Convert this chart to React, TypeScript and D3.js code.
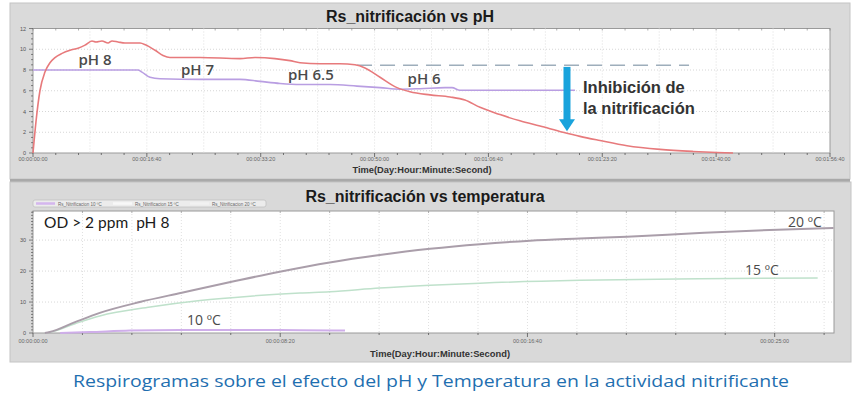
import React from "react";
import * as d3 from "d3";

// ---------- DATA ----------
// Top chart: time (s) vs Rs_nitrificación
const phTimes = [0, 26, 61, 105, 149, 193, 255, 325, 395, 457, 518, 553, 606, 659, 694, 747, 808, 940, 992, 1072, 1142, 1203, 1467, 1818, 1950, 2125, 2257, 2345, 2521, 2696, 2828, 2916, 3048, 3197, 3311, 3487, 3663, 3794, 3926, 4102, 4277, 4453, 4655, 4804, 4980, 5217, 5507, 5797, 6008, 6148];
const rsValues = [0, 3, 6, 7.8, 8.7, 9.2, 9.6, 9.9, 10.1, 10.4, 10.8, 10.7, 10.8, 10.6, 10.8, 10.7, 10.6, 10.6, 10.4, 9.9, 9.4, 9.2, 9.2, 9.1, 9.2, 9.1, 8.9, 8.7, 8.6, 8.6, 8.5, 8.2, 7.3, 6.3, 5.9, 5.6, 5.4, 5.1, 4.4, 3.7, 3.1, 2.6, 2.0, 1.6, 1.2, 0.7, 0.35, 0.15, 0.05, 0];
const pHTimes = [0, 922, 957, 1028, 1115, 1467, 1818, 1994, 2169, 2345, 2609, 2846, 3048, 3223, 3399, 3619, 3680, 3750, 4102, 4760];
const pHValues = [8, 8, 7.8, 7.3, 7.15, 7.1, 7.1, 6.9, 6.7, 6.6, 6.6, 6.45, 6.3, 6.15, 6.2, 6.3, 6.3, 6.05, 6.05, 6.05];
const refLineTimes = [2846, 5762];
const refLineValue = 8.45;
const arrowTime = 4690;
const arrowFrom = 8.3;
const arrowTo = 2.1;
const phLabels = ["pH 8", "pH 7", "pH 6.5", "pH 6"];
const phLabelT = [400, 1300, 2240, 3290];
const phLabelV = [8.5, 7.5, 7.04, 6.65];
const topXTicks = ["00:00:00:00", "00:00:16:40", "00:00:33:20", "00:00:50:00", "00:01:06:40", "00:01:23:20", "00:01:40:00", "00:01:56:40"];
const topYTicks = [0, 2, 4, 6, 8, 10, 12];

// Bottom chart: time (s) vs Rs_nitrificación at 3 temperatures
const t20Times = [24, 34, 85, 135, 216, 301, 404, 499, 600, 701, 803, 904, 1005, 1106, 1201, 1348, 1490, 1619];
const t20Values = [0, 0.3, 3.5, 6.5, 10, 13, 16.6, 19.8, 22.8, 25.2, 27.2, 28.7, 29.8, 30.5, 31.1, 32.3, 33.3, 33.9];
const t15Times = [24, 34, 85, 135, 237, 338, 439, 540, 600, 701, 803, 904, 1106, 1348, 1587];
const t15Values = [0, 0.2, 3, 5.5, 8.4, 10.5, 11.9, 12.9, 13.3, 14.5, 15.4, 16.1, 17.0, 17.5, 17.8];
const t10Times = [55, 115, 196, 297, 439, 540, 631];
const t10Values = [0, 0.3, 0.8, 1.0, 1.0, 0.9, 0.8];
const tempLabels = ["10 ºC", "15 ºC", "20 ºC"];
const bottomXTicks = ["00:00:00:00", "00:00:08:20", "00:00:16:40", "00:00:25:00"];
const bottomYTicks = [0, 10, 20, 30];
const legendNames = ["Rs_Nitrificacion 10 ºC", "Rs_Nitrificacion 15 ºC", "Rs_Nitrificacion 20 ºC"];

// ---------- COMPONENT ----------
const W = 861;
const H = 399;

function zip(ts: number[], vs: number[]): [number, number][] {
  return ts.map((t, i) => [t, vs[i]]);
}

export default function App() {
  // top scales
  const tx = d3.scaleLinear().domain([0, 7000]).range([33, 830]);
  const ty = d3.scaleLinear().domain([0, 12]).range([153, 28.5]);
  // bottom scales
  const bx = d3.scaleLinear().domain([0, 1620]).range([33, 834]);
  const by = d3.scaleLinear().domain([0, 39.4]).range([333, 211]);

  const topLine = d3.line<[number, number]>().x((d) => tx(d[0])).y((d) => ty(d[1])).curve(d3.curveMonotoneX);
  const botLine = d3.line<[number, number]>().x((d) => bx(d[0])).y((d) => by(d[1])).curve(d3.curveMonotoneX);

  const tickFont = "'Liberation Sans', Arial, sans-serif";

  // minor ticks
  const topXMinor = d3.range(0, 7001, 200);
  const topYMinor = d3.range(0, 12.01, 0.5);
  const topGridX = d3.range(500, 7000, 500);
  const botXMinor = d3.range(0, 1620, 100);
  const botYMinor = d3.range(0, 39.4, 1);

  const ax = tx(arrowTime);

  return (
    <svg width={W} height={H} style={{ position: "absolute", left: 0, top: 0, background: "#fff" }}>
      {/* ---------- TOP PANEL ---------- */}
      <rect x={10} y={3} width={840} height={176} fill="#dadada" stroke="#c4c4c4" />
      <text x={410} y={21.5} textAnchor="middle" fontFamily={tickFont} fontWeight="bold" fontSize={16} fill="#1a1a1a">
        Rs_nitrificación vs pH
      </text>
      <rect x={33} y={28.5} width={797} height={124.5} fill="#ffffff" stroke="#9a9a9a" />
      {/* grid */}
      {topYTicks.slice(1, -1).map((v) => (
        <line key={"tgy" + v} x1={33} x2={830} y1={ty(v)} y2={ty(v)} stroke="#d6d6d6" strokeDasharray="1,2" />
      ))}
      {topGridX.map((t) => (
        <line key={"tgx" + t} x1={tx(t)} x2={tx(t)} y1={28.5} y2={153} stroke="#dedede" strokeDasharray="1,2" />
      ))}
      {/* minor ticks */}
      {topXMinor.map((t) => (
        <g key={"txm" + t}>
          <line x1={tx(t)} x2={tx(t)} y1={153} y2={t % 1000 === 0 ? 157 : 155} stroke="#555" strokeWidth={0.8} />
          <line x1={tx(t)} x2={tx(t)} y1={28.5} y2={30.5} stroke="#777" strokeWidth={0.6} />
        </g>
      ))}
      {topYMinor.map((v) => (
        <line key={"tym" + v} x1={v % 2 === 0 ? 29 : 31} x2={33} y1={ty(v)} y2={ty(v)} stroke="#555" strokeWidth={0.7} />
      ))}
      {topYTicks.map((v) => (
        <text key={"tyl" + v} x={26} y={ty(v) + 2} textAnchor="end" fontFamily={tickFont} fontSize={5.5} fill="#555">
          {v}
        </text>
      ))}
      {topXTicks.map((s, i) => (
        <text key={"txl" + i} x={tx(i * 1000)} y={161} textAnchor="middle" fontFamily={tickFont} fontSize={5.5} fill="#666">
          {s}
        </text>
      ))}
      <text x={422} y={173} textAnchor="middle" fontFamily={tickFont} fontWeight="bold" fontSize={9} fill="#333" textLength={139} lengthAdjust="spacingAndGlyphs">
        Time(Day:Hour:Minute:Second)
      </text>
      {/* series */}
      <line x1={tx(refLineTimes[0])} x2={tx(refLineTimes[1])} y1={ty(refLineValue)} y2={ty(refLineValue)} stroke="#9eaebb" strokeWidth={1.5} strokeDasharray="15,8" />
      <path d={topLine(zip(pHTimes, pHValues)) || ""} fill="none" stroke="#b99ee2" strokeWidth={1.6} />
      <path d={topLine(zip(phTimes, rsValues)) || ""} fill="none" stroke="#e77a7c" strokeWidth={1.6} />
      {/* arrow */}
      <line x1={ax} x2={ax} y1={ty(arrowFrom)} y2={ty(arrowTo) - 11} stroke="#19a3dc" strokeWidth={7} />
      <path d={`M${ax - 8},${ty(arrowTo) - 12} L${ax + 8},${ty(arrowTo) - 12} L${ax},${ty(arrowTo)} Z`} fill="#19a3dc" />
      {/* labels */}
      {phLabels.map((s, i) => (
        <text key={s} x={tx(phLabelT[i])} y={ty(phLabelV[i])} fontFamily="'Open Sans', 'DejaVu Sans', sans-serif" fontWeight={600} fontSize={15} fill="#4a4a4a">
          {s}
        </text>
      ))}
      <text fontFamily={tickFont} fontWeight="bold" fontSize={16.5} fill="#333">
        <tspan x={583} y={93}>Inhibición de</tspan>
        <tspan x={583} y={114}>la nitrificación</tspan>
      </text>

      {/* ---------- BOTTOM PANEL ---------- */}
      <rect x={10} y={179} width={840} height={3} fill="#a9a9a9" />
      <rect x={10} y={182} width={841} height={180} fill="#d9d9d9" stroke="#c4c4c4" />
      <text x={425} y={202} textAnchor="middle" fontFamily={tickFont} fontWeight="bold" fontSize={16} fill="#1a1a1a">
        Rs_nitrificación vs temperatura
      </text>
      {/* legend */}
      <rect x={33} y={200} width={233} height={7} rx={2} fill="#ececec" stroke="#bdbdbd" strokeWidth={0.7} />
      {legendNames.map((n, i) => (
        <g key={n}>
          <line x1={36 + i * 77} x2={55 + i * 77} y1={203.5} y2={203.5} stroke={["#d4b6ee", "#f8f8f8", "#f2f2f2"][i]} strokeWidth={2.5} />
          <text x={58 + i * 77} y={205.5} fontFamily={tickFont} fontSize={4.5} fill="#666">
            {n}
          </text>
        </g>
      ))}
      <rect x={33} y={211} width={801} height={122} fill="#ffffff" stroke="#9a9a9a" />
      {bottomYTicks.slice(1).map((v) => (
        <line key={"bgy" + v} x1={33} x2={834} y1={by(v)} y2={by(v)} stroke="#d8d8d8" strokeDasharray="1,2" />
      ))}
      {botXMinor.slice(1).map((t) => (
        <line key={"bgx" + t} x1={bx(t)} x2={bx(t)} y1={211} y2={333} stroke="#e0e0e0" strokeDasharray="1,2" />
      ))}
      {botXMinor.map((t) => (
        <g key={"bxm" + t}>
          <line x1={bx(t)} x2={bx(t)} y1={333} y2={t % 500 === 0 ? 337 : 335} stroke="#555" strokeWidth={0.8} />
          <line x1={bx(t)} x2={bx(t)} y1={211} y2={213} stroke="#777" strokeWidth={0.6} />
        </g>
      ))}
      {botYMinor.map((v) => (
        <line key={"bym" + v} x1={v % 10 === 0 ? 29 : 31} x2={33} y1={by(v)} y2={by(v)} stroke="#555" strokeWidth={0.7} />
      ))}
      {bottomYTicks.map((v) => (
        <text key={"byl" + v} x={26} y={by(v) + 2} textAnchor="end" fontFamily={tickFont} fontSize={5.5} fill="#555">
          {v}
        </text>
      ))}
      {bottomXTicks.map((s, i) => (
        <text key={"bxl" + i} x={bx(i * 500)} y={343} textAnchor="middle" fontFamily={tickFont} fontSize={5.5} fill="#666">
          {s}
        </text>
      ))}
      <text x={440} y={357} textAnchor="middle" fontFamily={tickFont} fontWeight="bold" fontSize={9} fill="#333" textLength={140} lengthAdjust="spacingAndGlyphs">
        Time(Day:Hour:Minute:Second)
      </text>
      <path d={botLine(zip(t10Times, t10Values)) || ""} fill="none" stroke="#cfaeea" strokeWidth={2} />
      <path d={botLine(zip(t15Times, t15Values)) || ""} fill="none" stroke="#bfe1cb" strokeWidth={1.5} />
      <path d={botLine(zip(t20Times, t20Values)) || ""} fill="none" stroke="#aa9eaa" strokeWidth={2} />
      <text x={44} y={228} fontFamily="Lato, 'Open Sans', sans-serif" fontSize={15.5} fill="#1a1a1a" style={{ whiteSpace: "pre" }}>
        {"OD > 2 ppm  pH 8"}
      </text>
      <text x={187} y={325} fontFamily="'Open Sans', sans-serif" fontSize={14} fill="#4a4a4a">
        {tempLabels[0]}
      </text>
      <text x={745} y={275} fontFamily="'Open Sans', sans-serif" fontSize={14} fill="#4a4a4a">
        {tempLabels[1]}
      </text>
      <text x={788} y={227} fontFamily="'Open Sans', sans-serif" fontSize={14} fill="#4a4a4a">
        {tempLabels[2]}
      </text>

      {/* ---------- CAPTION ---------- */}
      <text x={431} y={387} textAnchor="middle" fontFamily="'Open Sans', 'Noto Sans', sans-serif" fontSize={16} fill="#1f6fb0" textLength={716} lengthAdjust="spacingAndGlyphs">
        Respirogramas sobre el efecto del pH y Temperatura en la actividad nitrificante
      </text>
    </svg>
  );
}
